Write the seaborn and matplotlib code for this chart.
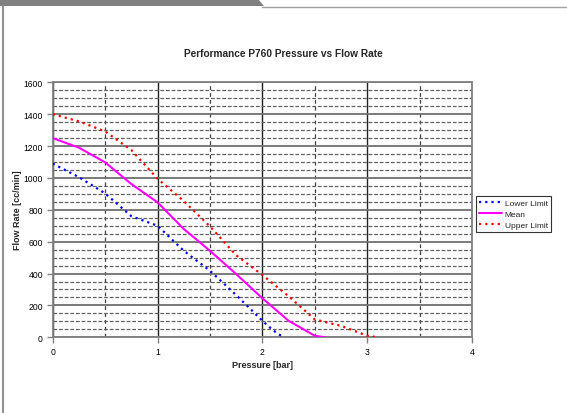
import matplotlib
matplotlib.use("Agg")
import matplotlib.pyplot as plt
import seaborn as sns
import pandas as pd
from matplotlib.patches import Polygon
from matplotlib.lines import Line2D

# Data
lower_x = [0, 0.25, 0.5, 0.75, 1.0, 1.25, 1.5, 1.75, 2.0, 2.1, 2.2]
lower_y = [1090, 1005, 903, 760, 700, 543, 418, 265, 104, 45, 0]
mean_x = [0, 0.25, 0.5, 0.75, 1.0, 1.25, 1.5, 1.75, 2.0, 2.25, 2.5, 2.6]
mean_y = [1250, 1190, 1098, 962, 847, 680, 543, 397, 245, 104, 10, 0]
upper_x = [0, 0.25, 0.5, 0.75, 1.0, 1.25, 1.5, 1.75, 2.0, 2.25, 2.5, 2.75, 3.0, 3.1]
upper_y = [1400, 1355, 1292, 1175, 995, 855, 696, 515, 391, 258, 112, 72, 10, 0]

series_names = ["Lower Limit", "Mean", "Upper Limit"]
colors = {"Lower Limit": "#0000FF", "Mean": "#FF00FF", "Upper Limit": "#FF0000"}

title = "Performance P760 Pressure vs Flow Rate"
xlabel = "Pressure [bar]"
ylabel = "Flow Rate [cc/min]"

sns.set_theme(style="white")
plt.rcParams["font.family"] = ["Liberation Sans", "DejaVu Sans"]

W, H = 567, 414
fig = plt.figure(figsize=(W / 100, H / 100), dpi=100)
fig.patch.set_facecolor("white")

# decorative frame of the reference screenshot
fig.patches.append(Polygon([(0, 1), (258 / W, 1), (264 / W, 1 - 7 / H), (0, 1 - 7 / H)],
                           closed=True, transform=fig.transFigure,
                           facecolor="#808080", edgecolor="none", zorder=0))
fig.lines.append(Line2D([262 / W, 1], [1 - 7.5 / H, 1 - 7.5 / H], transform=fig.transFigure,
                        color="#a0a0a0", lw=1.0))
fig.lines.append(Line2D([2.5 / W, 2.5 / W], [0, 1 - 7 / H], transform=fig.transFigure,
                        color="#909090", lw=1.5))

ax = fig.add_axes([52.7 / W, 1 - 338.3 / H, (472 - 52.7) / W, (338.3 - 83.3) / H])

frames = []
for name, xs, ys in [("Lower Limit", lower_x, lower_y), ("Mean", mean_x, mean_y),
                     ("Upper Limit", upper_x, upper_y)]:
    frames.append(pd.DataFrame({"Pressure": xs, "Flow": ys, "Series": name}))
df = pd.concat(frames, ignore_index=True)

for name in series_names:
    sub = df[df["Series"] == name]
    if name == "Mean":
        sns.lineplot(data=sub, x="Pressure", y="Flow", ax=ax, color=colors[name], lw=1.5,
                     label=name, sort=False, estimator=None, zorder=5)
    else:
        sns.lineplot(data=sub, x="Pressure", y="Flow", ax=ax, color=colors[name], lw=1.6,
                     label=name, sort=False, estimator=None, zorder=5, dashes=False,
                     linestyle=(0, (1.0, 1.8)))

ax.set_xlim(0, 4)
ax.set_ylim(0, 1600)
ax.set_xticks([0, 1, 2, 3, 4])
ax.set_yticks(range(0, 1601, 200))
ax.set_xticks([0.5, 1.5, 2.5, 3.5], minor=True)
ax.set_yticks([v for v in range(0, 1601, 50) if v % 200 != 0], minor=True)

ax.grid(which="major", axis="y", color="#707070", lw=1.3, ls="-", zorder=1)
ax.grid(which="minor", axis="y", color="#606060", lw=0.9, ls=(0, (3, 1.5)), zorder=1)
ax.grid(which="major", axis="x", color="#202020", lw=1.0, ls="-", zorder=1)
ax.grid(which="minor", axis="x", color="#404040", lw=0.9, ls=(0, (3, 2.5)), zorder=1)
ax.set_axisbelow(True)

for s in ax.spines.values():
    s.set_color("#808080")
    s.set_linewidth(1.3)

ax.tick_params(axis="both", which="major", labelsize=6.2, labelcolor="#000000", length=4,
               width=1, direction="out", pad=3, color="#808080")
ax.tick_params(axis="both", which="minor", length=0)
ax.tick_params(bottom=True, left=True)

ax.set_xlabel(xlabel, fontsize=6.5, fontweight="bold")
ax.set_ylabel(ylabel, fontsize=6.5, fontweight="bold")
ax.xaxis.set_label_coords((262 - 52.7) / (472 - 52.7), -(361 - 338.3) / 255)
ax.yaxis.set_label_coords(-(52.7 - 22) / (472 - 52.7), (338.3 - 210) / 255)

fig.text(283 / W, 1 - 54 / H, title, fontsize=7.3, fontweight="bold", ha="center", va="center")

leg = ax.legend(loc="center left", bbox_to_anchor=(476 / W, 1 - 215 / H),
                bbox_transform=fig.transFigure, fontsize=6.0, frameon=True, fancybox=False,
                handlelength=2.8, handletextpad=0.3, borderpad=0.35, labelspacing=0.4,
                borderaxespad=0)
leg.get_frame().set_edgecolor("#000000")
leg.get_frame().set_linewidth(0.8)

fig.savefig("out.png", dpi=100)
